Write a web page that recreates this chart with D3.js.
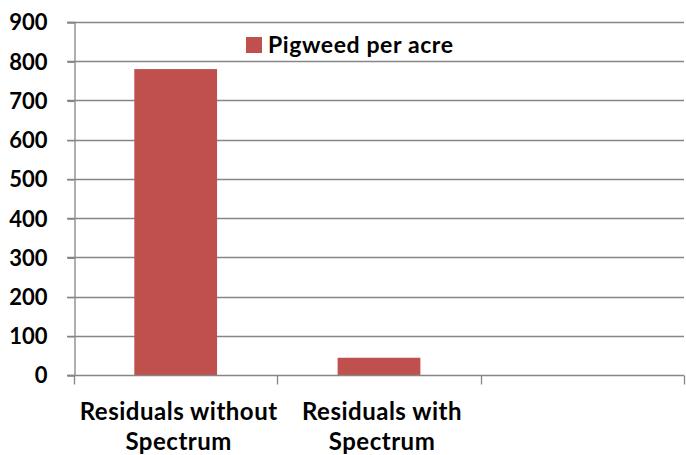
<!DOCTYPE html>
<html>
<head>
<meta charset="utf-8">
<script src="https://cdn.jsdelivr.net/npm/d3@7"></script>
<style>
  html, body { margin: 0; padding: 0; background: #fff; }
  svg { display: block; }
  text { font-family: Lato, "Open Sans", sans-serif; font-weight: bold; fill: #000; }
</style>
</head>
<body>
<svg id="chart" width="686" height="455"></svg>
<script>
const categories = ["Residuals without\nSpectrum", "Residuals with\nSpectrum", ""];
const seriesName = "Pigweed per acre";
const values = [780, 44, null];
const yTicks = [0, 100, 200, 300, 400, 500, 600, 700, 800, 900];

(function () {
const svg = d3.select("#chart");
const mLeft = 74, mRight = 684, mTop = 22, mBottom = 375;
const barColor = "#C0504D";
const gridColor = "#868686";

const x = d3.scaleBand().domain(d3.range(categories.length)).range([mLeft, mRight])
  .paddingInner(0.593).paddingOuter(0.593 / 2);
const xStep = d3.scaleBand().domain(d3.range(categories.length)).range([mLeft, mRight]);
const y = d3.scaleLinear().domain([0, 900]).range([mBottom, mTop]);

// gridlines
svg.append("g").selectAll("line").data(yTicks.filter(d => d > 0)).join("line")
  .attr("x1", mLeft - 7).attr("x2", mRight)
  .attr("y1", d => Math.round(y(d)) + 0.5).attr("y2", d => Math.round(y(d)) + 0.5)
  .attr("stroke", gridColor).attr("stroke-width", 1.3);

// bars
svg.append("g").selectAll("rect").data(values.map((v, i) => ({v, i})).filter(d => d.v != null)).join("rect")
  .attr("x", d => x(d.i)).attr("width", x.bandwidth())
  .attr("y", d => y(d.v)).attr("height", d => y(0) - y(d.v))
  .attr("fill", barColor);

// y axis
const yAxis = d3.axisLeft(y).tickValues(yTicks).tickSize(7).tickPadding(20).tickFormat(d3.format("d"));
const gy = svg.append("g").attr("transform", `translate(${mLeft + 0.5},0)`).call(yAxis);
gy.select(".domain").attr("stroke", gridColor).attr("stroke-width", 1.3);
gy.selectAll(".tick line").attr("stroke", gridColor).attr("stroke-width", 1.3)
  .attr("transform", "translate(0,0.5)");
gy.selectAll(".tick text").attr("font-size", 22).attr("font-family", "Lato, sans-serif")
  .attr("font-weight", "bold").attr("fill", "#000").attr("dy", "0.36em");

// x axis
const gx = svg.append("g").attr("transform", `translate(0,${Math.round(mBottom) + 0.5})`);
gx.append("line").attr("x1", mLeft - 7).attr("x2", mRight).attr("stroke", gridColor).attr("stroke-width", 1.3);
const bounds = d3.range(categories.length + 1).map(i => i < categories.length ? xStep(i) : mRight);
gx.selectAll("line.tk").data(bounds).join("line").attr("class", "tk")
  .attr("x1", d => Math.round(d) + 0.5).attr("x2", d => Math.round(d) + 0.5)
  .attr("y1", 0).attr("y2", 9).attr("stroke", gridColor).attr("stroke-width", 1.3);

const labels = gx.selectAll("text").data(categories).join("text")
  .attr("text-anchor", "middle")
  .attr("font-size", 24)
  .attr("letter-spacing", "0.5px")
  .attr("transform", (d, i) => `translate(${xStep(i) + xStep.bandwidth() / 2 + 3},0)`);
labels.each(function(d) {
  const lines = d.split("\n");
  d3.select(this).selectAll("tspan").data(lines).join("tspan")
    .attr("x", 0).attr("y", (l, j) => 44.5 + j * 30).text(l => l);
});

// legend
const lg = svg.append("g");
lg.append("rect").attr("x", 246).attr("y", 37).attr("width", 16).attr("height", 16).attr("fill", barColor);
lg.append("text").attr("x", 268).attr("y", 52.5).attr("font-size", 23)
  .attr("letter-spacing", "0.6px").text(seriesName);
})();
</script>
</body>
</html>
